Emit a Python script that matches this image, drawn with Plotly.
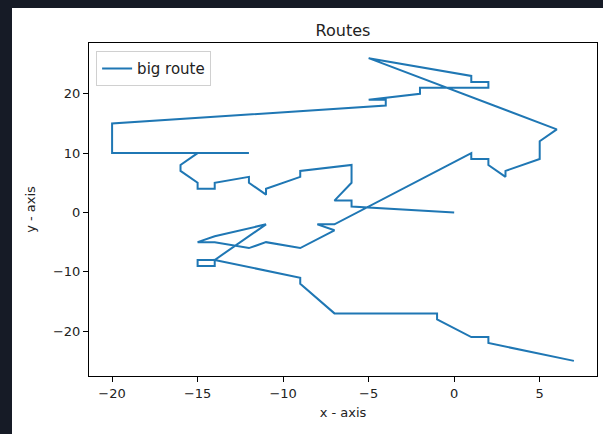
import plotly.graph_objects as go

# Route coordinates
route_x = [0, -6, -6, -7, -6, -6, -9, -9, -11, -11, -12, -12, -14, -14, -15, -15, -16, -16, -15, -12,
           -20, -20, -4, -4, -5, -2, -2, 2, 2, 1, 1, -5, 6, 5, 5, 3, 3, 2, 2, 1, 1,
           -7, -8, -7, -9, -11, -12, -14, -15, -14, -11, -14, -15, -15, -14, -14,
           -9, -9, -7, -1, -1, 1, 2, 2, 7]
route_y = [0, 1, 2, 2, 5, 8, 7, 6, 4, 3, 5, 6, 5, 4, 4, 5, 7, 8, 10, 10,
           10, 15, 18, 19, 19, 20, 21, 21, 22, 22, 23, 26, 14, 12, 9, 7, 6, 8, 9, 9, 10,
           -2, -2, -3, -6, -5, -6, -5, -5, -4, -2, -8, -8, -9, -9, -8,
           -11, -12, -17, -17, -18, -21, -21, -22, -25]
series_name = "big route"
x_ticks = [-20, -15, -10, -5, 0, 5]
y_ticks = [-20, -10, 0, 10, 20]

W, H = 603, 434
L, R, T, B = 89, 6, 43, 58
pw, ph = W - L - R, H - T - B

FONT = "DejaVu Sans"
fig = go.Figure()
fig.add_trace(go.Scatter(x=route_x, y=route_y, mode="lines", name=series_name,
                         line=dict(color="#1f77b4", width=2)))

def px_to_paper_x(p):
    return (p - L) / pw

def px_to_paper_y(p):
    return (H - B - p) / ph

dark = "#161b26"
shapes = [
    dict(type="rect", xref="paper", yref="paper", layer="above",
         x0=px_to_paper_x(0), x1=px_to_paper_x(12), y0=px_to_paper_y(H), y1=px_to_paper_y(0),
         fillcolor=dark, line=dict(width=0)),
    dict(type="rect", xref="paper", yref="paper", layer="above",
         x0=px_to_paper_x(0), x1=px_to_paper_x(W), y0=px_to_paper_y(8), y1=px_to_paper_y(0),
         fillcolor=dark, line=dict(width=0)),
]

axis_common = dict(showgrid=False, zeroline=False, showline=True, linecolor="black", linewidth=1,
                   mirror=True, ticks="outside", ticklen=5, tickcolor="black", tickwidth=1,
                   automargin=False,
                   tickfont=dict(family=FONT, size=13, color="#222"))

fig.update_layout(
    width=W, height=H,
    margin=dict(l=L, r=R, t=T, b=B, autoexpand=False),
    paper_bgcolor="white", plot_bgcolor="white",
    title=dict(text="Routes", x=(L + pw / 2) / W, xanchor="center", y=1 - 30 / H, yanchor="middle",
               font=dict(family=FONT, size=16, color="#222"), automargin=False),
    xaxis=dict(range=[-21.35, 8.35], tickvals=x_ticks,
               title=dict(text="x - axis", font=dict(family=FONT, size=13, color="#222"), standoff=8),
               **axis_common),
    yaxis=dict(range=[-27.55, 28.55], tickvals=y_ticks,
               title=dict(text="y - axis", font=dict(family=FONT, size=13, color="#222"), standoff=14),
               **axis_common),
    showlegend=True,
    legend=dict(x=0.014, y=0.975, xanchor="left", yanchor="top", bgcolor="rgba(255,255,255,0.8)",
                bordercolor="#d0d0d0", borderwidth=1, itemwidth=30,
                font=dict(family=FONT, size=15, color="#222")),
    shapes=shapes,
)

fig.write_html("out.html", config={"displayModeBar": False})

# remove the default page margin so the figure fills the window exactly
with open("out.html", "r", encoding="utf-8") as f:
    html = f.read()
html = html.replace("<head>", "<head><style>html,body{margin:0;padding:0;overflow:hidden;}</style>", 1)
with open("out.html", "w", encoding="utf-8") as f:
    f.write(html)
